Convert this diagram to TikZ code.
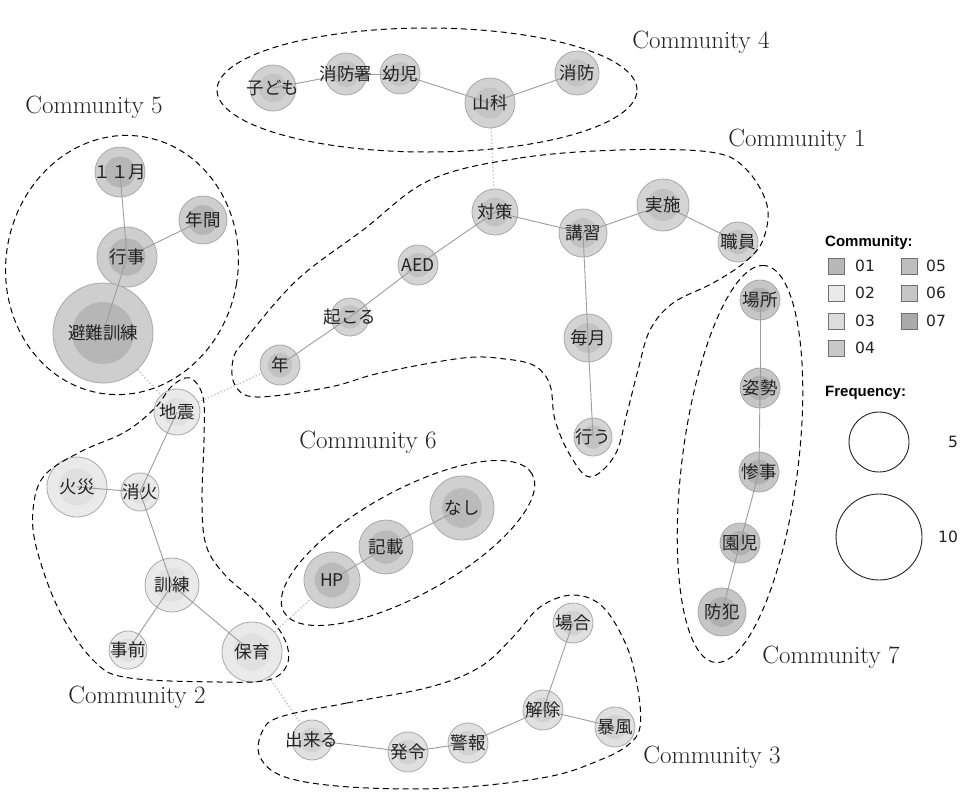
\documentclass[tikz,border=0pt]{standalone}
\usepackage{fontspec}
\newfontfamily\jp{Noto Sans CJK JP}
\newfontfamily\lsans{Liberation Sans}
\newfontfamily\dvs{DejaVu Sans}
\pgfdeclarelayer{background}
\pgfsetlayers{background,main}
\definecolor{c1o}{HTML}{D4D4D4}\definecolor{c1i}{HTML}{C2C2C2}
\definecolor{c2o}{HTML}{EAEAEA}\definecolor{c2i}{HTML}{E0E0E0}
\definecolor{c3o}{HTML}{E0E0E0}\definecolor{c3i}{HTML}{D2D2D2}
\definecolor{c4o}{HTML}{D2D2D2}\definecolor{c4i}{HTML}{C4C4C4}
\definecolor{c5o}{HTML}{CECECE}\definecolor{c5i}{HTML}{B6B6B6}
\definecolor{c6o}{HTML}{D0D0D0}\definecolor{c6i}{HTML}{BABABA}
\definecolor{c7o}{HTML}{C6C6C6}\definecolor{c7i}{HTML}{B0B0B0}
\definecolor{edgec}{HTML}{9C9C9C}
\definecolor{ringc}{HTML}{A8A8A8}
\definecolor{dotc}{HTML}{BDBDBD}
\definecolor{sqb}{HTML}{707070}
\definecolor{txt}{HTML}{222222}
\tikzset{
  wn/.style={circle, draw=ringc, line width=0.8pt, inner sep=0pt},
  wt/.style={font=\jp\fontsize{17.5}{19}\selectfont, inner sep=0pt, text=txt},
  ed/.style={draw=edgec, line width=0.9pt},
  dl/.style={draw=dotc, line width=1.3pt, dash pattern=on 1.3pt off 2.2pt},
  comm/.style={draw=black, line width=1pt, dash pattern=on 6pt off 4pt},
  clabel/.style={font=\fontsize{25}{29}\selectfont, text=txt, inner sep=0pt},
  leghead/.style={font=\lsans\bfseries\fontsize{15}{17}\selectfont, anchor=west, inner sep=0pt},
  legnum/.style={font=\dvs\fontsize{15.5}{17}\selectfont, anchor=west, inner sep=0pt, text=txt},
  sq/.style={draw=sqb, line width=0.7pt, minimum size=16pt, inner sep=0pt},
  fc/.style={circle, draw=txt, line width=0.9pt, inner sep=0pt}
}
\newcommand\wcirc[4]{\node[wn, fill=#4o, minimum size={2*#3pt}, path picture={\fill[#4i] (path picture bounding box.center) circle ({0.62*#3pt});}] (#1) at (#2) {};}
\newcommand\wtext[2]{\node[wt] (#1-t) at (#1) {#2};}
\begin{document}
\begin{tikzpicture}[x=1pt,y=-1pt]
\useasboundingbox (0,0) rectangle (965,793);
% ---- circles
% C4
\wcirc{kodomo}{273,88}{23}{c4}
\wcirc{shobosho}{346,74}{21}{c4}
\wcirc{yoji}{400,74}{20}{c4}
\wcirc{yamashina}{490,103}{25}{c4}
\wcirc{shobo}{577,73}{22}{c4}
% C5
\wcirc{nov}{120,172}{25}{c5}
\wcirc{nenkan}{203,220}{24}{c5}
\wcirc{gyoji}{127,257}{30}{c5}
\wcirc{hinan}{103,333}{50}{c5}
% C1
\wcirc{taisaku}{495,212}{23}{c1}
\wcirc{koshu}{583,233}{24}{c1}
\wcirc{jisshi}{663,205}{26}{c1}
\wcirc{shokuin}{738,242}{20}{c1}
\wcirc{aed}{418,265}{20}{c1}
\wcirc{okoru}{350,317}{19}{c1}
\wcirc{nen}{280,365}{20}{c1}
\wcirc{maitsuki}{588,338}{24}{c1}
\wcirc{okonau}{593,437}{19}{c1}
% C6
\wcirc{nashi}{462,508}{32}{c6}
\wcirc{kisai}{386,547}{27}{c6}
\wcirc{hp}{332,580}{28}{c6}
% C2
\wcirc{jishin}{177,412}{23}{c2}
\wcirc{kasai}{77,487}{30}{c2}
\wcirc{shoka}{140,492}{19}{c2}
\wcirc{kunren}{172,585}{27}{c2}
\wcirc{jizen}{128,650}{19}{c2}
\wcirc{hoiku}{252,652}{30}{c2}
% C3
\wcirc{baai}{573,623}{20}{c3}
\wcirc{kaijo}{543,710}{20}{c3}
\wcirc{bofu}{615,727}{20}{c3}
\wcirc{keiho}{468,743}{20}{c3}
\wcirc{hatsurei}{408,752}{20}{c3}
\wcirc{dekiru}{312,740}{20}{c3}
% C7
\wcirc{basho}{760,300}{20}{c7}
\wcirc{shisei}{760,388}{20}{c7}
\wcirc{sanji}{759,472}{20}{c7}
\wcirc{enji}{740,543}{20}{c7}
\wcirc{bohan}{722,612}{24}{c7}
% ---- dotted cross links (behind)
\begin{pgfonlayer}{background}
\draw[dl] (yamashina) -- (taisaku);
\draw[dl] (hinan) -- (jishin);
\draw[dl] (jishin) -- (nen);
\draw[dl] (hoiku) -- (hp);
\draw[dl] (hoiku) -- (dekiru);
\end{pgfonlayer}
% ---- edges
\draw[ed] (kodomo.center) -- (shobosho.center);
\draw[ed] (shobosho.center) -- (yoji.center);
\draw[ed] (yoji.center) -- (yamashina.center);
\draw[ed] (yamashina.center) -- (shobo.center);
\draw[ed] (nov.center) -- (gyoji.center);
\draw[ed] (nenkan.center) -- (gyoji.center);
\draw[ed] (gyoji.center) -- (hinan.center);
\draw[ed] (nen.center) -- (okoru.center);
\draw[ed] (okoru.center) -- (aed.center);
\draw[ed] (aed.center) -- (taisaku.center);
\draw[ed] (taisaku.center) -- (koshu.center);
\draw[ed] (koshu.center) -- (jisshi.center);
\draw[ed] (jisshi.center) -- (shokuin.center);
\draw[ed] (koshu.center) -- (maitsuki.center);
\draw[ed] (maitsuki.center) -- (okonau.center);
\draw[ed] (hp.center) -- (kisai.center);
\draw[ed] (kisai.center) -- (nashi.center);
\draw[ed] (jishin.center) -- (shoka.center);
\draw[ed] (kasai.center) -- (shoka.center);
\draw[ed] (shoka.center) -- (kunren.center);
\draw[ed] (kunren.center) -- (jizen.center);
\draw[ed] (kunren.center) -- (hoiku.center);
\draw[ed] (dekiru.center) -- (hatsurei.center);
\draw[ed] (hatsurei.center) -- (keiho.center);
\draw[ed] (keiho.center) -- (kaijo.center);
\draw[ed] (kaijo.center) -- (baai.center);
\draw[ed] (kaijo.center) -- (bofu.center);
\draw[ed] (basho.center) -- (shisei.center);
\draw[ed] (shisei.center) -- (sanji.center);
\draw[ed] (sanji.center) -- (enji.center);
\draw[ed] (enji.center) -- (bohan.center);
% ---- texts
\wtext{kodomo}{子ども}
\wtext{shobosho}{消防署}
\wtext{yoji}{幼児}
\wtext{yamashina}{山科}
\wtext{shobo}{消防}
\wtext{nov}{１１月}
\wtext{nenkan}{年間}
\wtext{gyoji}{行事}
\wtext{hinan}{避難訓練}
\wtext{taisaku}{対策}
\wtext{koshu}{講習}
\wtext{jisshi}{実施}
\wtext{shokuin}{職員}
\wtext{aed}{AED}
\wtext{okoru}{起こる}
\wtext{nen}{年}
\wtext{maitsuki}{毎月}
\wtext{okonau}{行う}
\wtext{nashi}{なし}
\wtext{kisai}{記載}
\wtext{hp}{HP}
\wtext{jishin}{地震}
\wtext{kasai}{火災}
\wtext{shoka}{消火}
\wtext{kunren}{訓練}
\wtext{jizen}{事前}
\wtext{hoiku}{保育}
\wtext{baai}{場合}
\wtext{kaijo}{解除}
\wtext{bofu}{暴風}
\wtext{keiho}{警報}
\wtext{hatsurei}{発令}
\wtext{dekiru}{出来る}
\wtext{basho}{場所}
\wtext{shisei}{姿勢}
\wtext{sanji}{惨事}
\wtext{enji}{園児}
\wtext{bohan}{防犯}
% ---- community outlines
\draw[comm] (427,90) ellipse (210pt and 62pt);
\draw[comm, rotate around={-10:(122,265)}] (122,265) ellipse (116pt and 130pt);
\draw[comm, rotate around={29:(408,543)}] (408,543) ellipse (142pt and 52pt);
\draw[comm, rotate around={82.8:(740,464)}] (740,464) ellipse (200pt and 58pt);
\draw[comm] plot[smooth cycle, tension=0.6] coordinates {(430,180) (520,158) (620,150) (710,152) (745,168) (767,205) (763,240) (745,262) (713,283) (673,303) (650,330) (638,370) (627,413) (615,455) (590,477) (570,455) (555,420) (550,385) (535,366) (505,359) (463,358) (380,373) (330,387) (257,397) (235,385) (233,360) (245,340) (297,280) (363,230)};
\draw[comm] plot[smooth cycle, tension=0.6] coordinates {(190,378) (203,397) (204,440) (202,500) (206,545) (225,575) (262,608) (285,640) (287,665) (268,680) (220,682) (130,678) (95,662) (60,612) (37,550) (33,510) (44,476) (80,452) (125,432) (155,408) (172,386)};
\draw[comm] plot[smooth cycle, tension=0.6] coordinates {(280,717) (347,703) (430,687) (480,667) (513,637) (540,607) (573,595) (603,607) (627,647) (638,690) (640,727) (628,745) (600,760) (547,777) (450,788) (350,787) (285,777) (260,757) (262,732)};
% ---- community labels
\node[clabel] (l4) at (701,42) {Community 4};
\node[clabel] (l5) at (94,107) {Community 5};
\node[clabel] (l1) at (797,140) {Community 1};
\node[clabel] (l6) at (368,442) {Community 6};
\node[clabel] (l2) at (137,697) {Community 2};
\node[clabel] (l7) at (831,657) {Community 7};
\node[clabel] (l3) at (712,757) {Community 3};
% ---- legend
\node[leghead] (lc) at (825,243) {Community:};
\node[sq, fill={rgb,255:red,184;green,184;blue,184}] (s1) at (836,266) {};
\node[legnum] (t1) at (855,266) {01};
\node[sq, fill={rgb,255:red,234;green,234;blue,234}] (s2) at (836,293) {};
\node[legnum] (t2) at (855,293) {02};
\node[sq, fill={rgb,255:red,220;green,220;blue,220}] (s3) at (836,321) {};
\node[legnum] (t3) at (855,321) {03};
\node[sq, fill={rgb,255:red,200;green,200;blue,200}] (s4) at (836,348) {};
\node[legnum] (t4) at (855,348) {04};
\node[sq, fill={rgb,255:red,190;green,190;blue,190}] (s5) at (909,266) {};
\node[legnum] (t5) at (926,266) {05};
\node[sq, fill={rgb,255:red,198;green,198;blue,198}] (s6) at (909,293) {};
\node[legnum] (t6) at (926,293) {06};
\node[sq, fill={rgb,255:red,170;green,170;blue,170}] (s7) at (909,321) {};
\node[legnum] (t7) at (926,321) {07};
\node[leghead] (lf) at (825,393) {Frequency:};
\node[fc, minimum size=60pt] (f5) at (879,442) {};
\node[legnum, anchor=center] (f5t) at (953,442) {5};
\node[fc, minimum size=86pt] (f10) at (879,537) {};
\node[legnum, anchor=center] (f10t) at (948,537) {10};
\end{tikzpicture}
\end{document}
